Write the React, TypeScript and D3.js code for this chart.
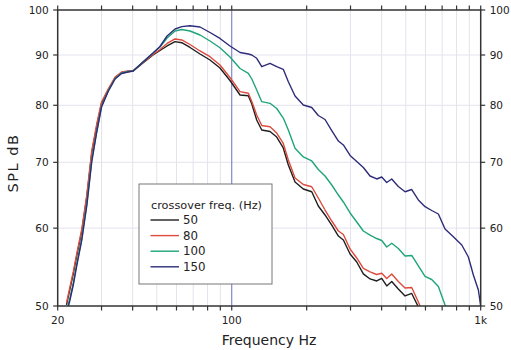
import React from "react";
import * as d3 from "d3";

const FREQ = [21.7, 22.4, 23.1, 23.8, 25.0, 26.2, 27.4, 28.7, 30.0, 31.9, 34.0, 36.1, 38.3, 40.2, 44.0, 48.3, 51.5, 55.0, 59.2, 63.0, 68.0, 74.6, 81.8, 89.7, 98.4, 108.0, 116.6, 120.4, 126.0, 132.0, 142.5, 151.6, 161.1, 168.8, 179.6, 193.9, 209.6, 222.7, 237.0, 252.2, 268.2, 280.8, 298.8, 317.8, 337.8, 359.4, 382.2, 400.4, 419.4, 439.2, 466.8, 496.8, 528.4, 561.8, 597.6, 635.8, 676, 719.2, 776.4, 839.4, 892.2, 934.4, 978.6, 1000];

const DB_50 = [50.12, 52.03, 53.9, 56.08, 59.6, 64.69, 71.55, 76.21, 80.34, 82.92, 85.28, 86.28, 86.59, 86.69, 88.33, 90.0, 90.95, 91.92, 92.85, 92.63, 91.6, 90.21, 88.95, 87.3, 84.78, 81.95, 81.82, 80.24, 77.29, 75.5, 75.24, 74.27, 72.39, 69.56, 66.85, 65.76, 65.34, 63.19, 61.88, 60.44, 58.9, 58.36, 56.47, 55.43, 53.9, 53.27, 53.02, 53.33, 52.4, 52.95, 52.03, 51.19, 51.49, 49.89, 48.2];

const DB_80 = [50.35, 52.28, 54.15, 56.34, 59.88, 64.99, 71.88, 76.57, 80.62, 83.11, 85.48, 86.49, 86.69, 86.79, 88.44, 90.11, 91.17, 92.46, 93.44, 93.22, 92.24, 90.85, 89.64, 87.92, 85.38, 82.59, 82.28, 80.72, 78.2, 76.3, 76.09, 74.97, 73.16, 70.38, 67.48, 66.46, 66.11, 64.39, 62.6, 61.01, 59.6, 59.11, 57.14, 55.95, 54.59, 54.15, 53.83, 53.98, 53.33, 53.9, 52.95, 52.16, 52.22, 50.47, 48.6];

const DB_100 = [49.31, 50.95, 52.77, 55.04, 58.63, 63.64, 70.38, 75.32, 79.86, 82.73, 85.18, 86.28, 86.59, 86.69, 88.54, 90.42, 91.7, 93.66, 95.2, 95.53, 95.2, 94.31, 93.0, 91.53, 89.58, 87.2, 86.22, 85.08, 82.92, 80.68, 80.37, 79.4, 77.65, 75.5, 72.34, 70.88, 70.22, 68.83, 67.79, 66.38, 64.84, 63.79, 62.17, 60.87, 59.6, 59.04, 58.56, 58.29, 57.41, 57.91, 57.21, 56.21, 56.28, 54.91, 53.58, 53.2, 52.34, 50.12, 47.83];

const DB_150 = [49.08, 50.71, 52.52, 54.78, 58.36, 63.34, 70.05, 75.15, 79.68, 82.63, 85.08, 86.18, 86.49, 86.69, 88.54, 90.42, 91.81, 94.09, 95.65, 96.17, 96.39, 96.1, 94.87, 93.55, 91.92, 90.53, 90.21, 90.0, 89.31, 87.57, 88.27, 87.57, 87.03, 84.54, 81.76, 80.05, 79.59, 78.11, 77.38, 75.41, 73.58, 72.9, 71.13, 70.13, 69.16, 67.79, 67.32, 67.63, 66.77, 67.32, 66.15, 65.34, 65.68, 64.09, 63.09, 62.53, 62.02, 59.88, 58.81, 57.68, 56.08, 53.77, 51.91, 50.0];

const SERIES_NAMES = ["50", "80", "100", "150"];
const SERIES_COLORS = ["#1e1e1e", "#dd4b3e", "#1ea578", "#2e2c78"];
const SERIES_VALUES = [DB_50, DB_80, DB_100, DB_150];

const X_TICKS = [20, 30, 40, 50, 60, 70, 80, 90, 100, 200, 300, 400, 500, 600, 700, 800, 900, 1000];
const X_LABELED = [20, 100, 1000];
const X_LABEL_TEXT = ["20", "100", "1k"];
const Y_TICKS = [50, 60, 70, 80, 90, 100];

const W = 511;
const H = 350;
const L = 57.7;
const R = 480.7;
const T = 10;
const B = 306;

export default function App() {
  const x = d3.scaleLog().domain([20, 1000]).range([L, R]);
  const y = d3.scaleLog().domain([50, 100]).range([B, T]);
  const line = d3
    .line<number>()
    .x((_, i) => x(FREQ[i]))
    .y((d) => y(d));

  const font = "DejaVu Sans, Verdana, sans-serif";
  const legendX = 139;
  const legendY = 184;

  return (
    <svg
      width={W}
      height={H}
      style={{ position: "absolute", left: 0, top: 0, background: "#fff" }}
      fontFamily={font}
    >
      <defs>
        <clipPath id="plotclip">
          <rect x={L} y={T} width={R - L} height={B - T} />
        </clipPath>
      </defs>
      <rect x={0} y={0} width={W} height={H} fill="#fff" />
      {/* grid */}
      {X_TICKS.filter((t) => t !== 20 && t !== 1000 && t !== 100).map((t) => (
        <line key={"gx" + t} x1={x(t)} x2={x(t)} y1={T} y2={B} stroke="#e3e3ee" strokeWidth={1} />
      ))}
      {Y_TICKS.filter((t) => t !== 50 && t !== 100).map((t) => (
        <line key={"gy" + t} x1={L} x2={R} y1={y(t)} y2={y(t)} stroke="#e3e3ee" strokeWidth={1} />
      ))}
      <line x1={x(100)} x2={x(100)} y1={T} y2={B} stroke="#7c7cc4" strokeWidth={1.1} />

      {/* curves */}
      <g clipPath="url(#plotclip)">
        {SERIES_VALUES.map((vals, si) => (
          <path
            key={"s" + si}
            d={line(vals) || ""}
            fill="none"
            stroke={SERIES_COLORS[si]}
            strokeWidth={1.4}
            strokeLinejoin="round"
          />
        ))}
      </g>

      {/* frame */}
      <rect x={L} y={T} width={R - L} height={B - T} fill="none" stroke="#333" strokeWidth={1.5} />

      {/* x ticks bottom & top */}
      {X_TICKS.map((t) => (
        <g key={"xt" + t}>
          <line x1={x(t)} x2={x(t)} y1={B} y2={B + 4.5} stroke="#333" strokeWidth={1.2} />
          <line x1={x(t)} x2={x(t)} y1={T} y2={T - 4.5} stroke="#333" strokeWidth={1.2} />
        </g>
      ))}
      {X_LABELED.map((t, i) => (
        <text key={"xl" + t} x={x(t)} y={324} fontSize={10.5} textAnchor="middle" fill="#222">
          {X_LABEL_TEXT[i]}
        </text>
      ))}

      {/* y ticks left & right */}
      {Y_TICKS.map((t) => (
        <g key={"yt" + t}>
          <line x1={L - 4.5} x2={L} y1={y(t)} y2={y(t)} stroke="#333" strokeWidth={1.2} />
          <line x1={R} x2={R + 4.5} y1={y(t)} y2={y(t)} stroke="#333" strokeWidth={1.2} />
          <text x={L - 9} y={y(t)} dy="0.36em" fontSize={10.5} textAnchor="end" fill="#222">
            {t}
          </text>
          <text x={R + 9} y={y(t)} dy="0.36em" fontSize={10.5} textAnchor="start" fill="#222">
            {t}
          </text>
        </g>
      ))}

      {/* axis titles */}
      <text x={269} y={345} fontSize={14} textAnchor="middle" fill="#222">
        Frequency Hz
      </text>
      <text
        transform={`translate(18,163) rotate(-90)`}
        fontSize={14.5}
        letterSpacing={1.5}
        textAnchor="middle"
        fill="#222"
      >
        SPL dB
      </text>

      {/* legend */}
      <rect x={legendX} y={legendY} width={133} height={100} fill="#fff" stroke="#777" strokeWidth={1} />
      <text x={151} y={209} fontSize={11.3} fill="#222">
        crossover freq. (Hz)
      </text>
      {SERIES_NAMES.map((n, i) => (
        <g key={"lg" + n}>
          <line
            x1={150.5}
            x2={179}
            y1={220 + i * 15.6}
            y2={220 + i * 15.6}
            stroke={SERIES_COLORS[i]}
            strokeWidth={1.4}
          />
          <text x={183} y={220 + i * 15.6} dy="0.36em" fontSize={11.8} fill="#222">
            {n}
          </text>
        </g>
      ))}
    </svg>
  );
}
